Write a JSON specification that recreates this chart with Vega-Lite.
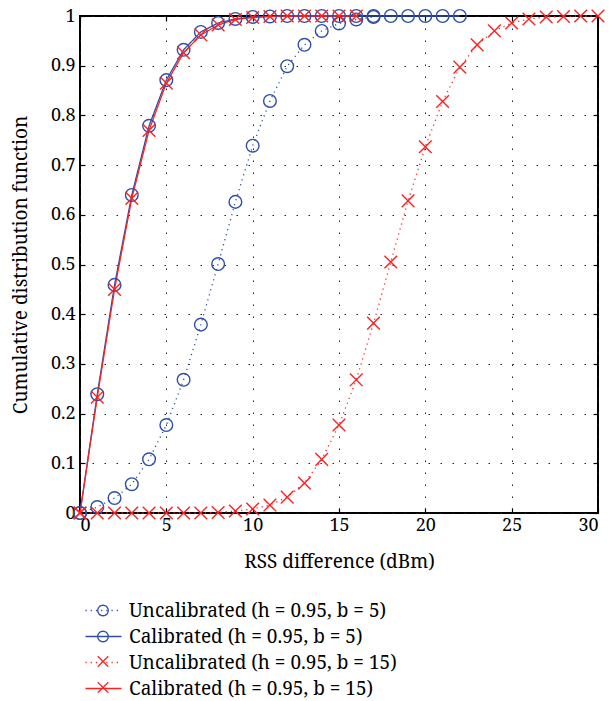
{
  "$schema": "https://vega.github.io/schema/vega-lite/v6.json",
  "width": 518,
  "height": 497,
  "autosize": {"type": "none"},
  "padding": {"left": 80, "top": 16, "right": 13, "bottom": 188},
  "background": "white",
  "config": {
    "font": "Noto Serif",
    "view": {"stroke": "black", "strokeWidth": 2},
    "axis": {
      "labelFont": "Noto Serif",
      "titleFont": "Noto Serif",
      "labelColor": "black",
      "titleColor": "black",
      "tickColor": "black",
      "titleFontWeight": "normal",
      "labelFontSize": 18,
      "titleFontSize": 19,
      "domain": false
    },
    "legend": {
      "labelFont": "Noto Serif",
      "labelFontSize": 19,
      "labelColor": "black",
      "labelLimit": 500,
      "padding": 0
    }
  },
  "data": {
    "values": [
      {"series": "Uncalibrated (h = 0.95, b = 5)", "x": 0, "y": 0},
      {"series": "Uncalibrated (h = 0.95, b = 5)", "x": 1, "y": 0.012},
      {"series": "Uncalibrated (h = 0.95, b = 5)", "x": 2, "y": 0.03},
      {"series": "Uncalibrated (h = 0.95, b = 5)", "x": 3, "y": 0.058},
      {"series": "Uncalibrated (h = 0.95, b = 5)", "x": 4, "y": 0.108},
      {"series": "Uncalibrated (h = 0.95, b = 5)", "x": 5, "y": 0.177},
      {"series": "Uncalibrated (h = 0.95, b = 5)", "x": 6, "y": 0.268},
      {"series": "Uncalibrated (h = 0.95, b = 5)", "x": 7, "y": 0.379},
      {"series": "Uncalibrated (h = 0.95, b = 5)", "x": 8, "y": 0.501},
      {"series": "Uncalibrated (h = 0.95, b = 5)", "x": 9, "y": 0.626},
      {"series": "Uncalibrated (h = 0.95, b = 5)", "x": 10, "y": 0.739},
      {"series": "Uncalibrated (h = 0.95, b = 5)", "x": 11, "y": 0.829},
      {"series": "Uncalibrated (h = 0.95, b = 5)", "x": 12, "y": 0.899},
      {"series": "Uncalibrated (h = 0.95, b = 5)", "x": 13, "y": 0.942},
      {"series": "Uncalibrated (h = 0.95, b = 5)", "x": 14, "y": 0.970},
      {"series": "Uncalibrated (h = 0.95, b = 5)", "x": 15, "y": 0.985},
      {"series": "Uncalibrated (h = 0.95, b = 5)", "x": 16, "y": 0.993},
      {"series": "Uncalibrated (h = 0.95, b = 5)", "x": 17, "y": 0.998},
      {"series": "Calibrated (h = 0.95, b = 5)", "x": 0, "y": 0},
      {"series": "Calibrated (h = 0.95, b = 5)", "x": 1, "y": 0.239},
      {"series": "Calibrated (h = 0.95, b = 5)", "x": 2, "y": 0.459},
      {"series": "Calibrated (h = 0.95, b = 5)", "x": 3, "y": 0.640},
      {"series": "Calibrated (h = 0.95, b = 5)", "x": 4, "y": 0.779},
      {"series": "Calibrated (h = 0.95, b = 5)", "x": 5, "y": 0.871},
      {"series": "Calibrated (h = 0.95, b = 5)", "x": 6, "y": 0.932},
      {"series": "Calibrated (h = 0.95, b = 5)", "x": 7, "y": 0.968},
      {"series": "Calibrated (h = 0.95, b = 5)", "x": 8, "y": 0.986},
      {"series": "Calibrated (h = 0.95, b = 5)", "x": 9, "y": 0.994},
      {"series": "Calibrated (h = 0.95, b = 5)", "x": 10, "y": 0.998},
      {"series": "Calibrated (h = 0.95, b = 5)", "x": 11, "y": 0.999},
      {"series": "Calibrated (h = 0.95, b = 5)", "x": 12, "y": 1},
      {"series": "Calibrated (h = 0.95, b = 5)", "x": 13, "y": 1},
      {"series": "Calibrated (h = 0.95, b = 5)", "x": 14, "y": 1},
      {"series": "Calibrated (h = 0.95, b = 5)", "x": 15, "y": 1},
      {"series": "Calibrated (h = 0.95, b = 5)", "x": 16, "y": 1},
      {"series": "Calibrated (h = 0.95, b = 5)", "x": 17, "y": 1},
      {"series": "Calibrated (h = 0.95, b = 5)", "x": 18, "y": 1},
      {"series": "Calibrated (h = 0.95, b = 5)", "x": 19, "y": 1},
      {"series": "Calibrated (h = 0.95, b = 5)", "x": 20, "y": 1},
      {"series": "Calibrated (h = 0.95, b = 5)", "x": 21, "y": 1},
      {"series": "Calibrated (h = 0.95, b = 5)", "x": 22, "y": 1},
      {"series": "Uncalibrated (h = 0.95, b = 15)", "x": 0, "y": 0},
      {"series": "Uncalibrated (h = 0.95, b = 15)", "x": 1, "y": 0},
      {"series": "Uncalibrated (h = 0.95, b = 15)", "x": 2, "y": 0},
      {"series": "Uncalibrated (h = 0.95, b = 15)", "x": 3, "y": 0},
      {"series": "Uncalibrated (h = 0.95, b = 15)", "x": 4, "y": 0},
      {"series": "Uncalibrated (h = 0.95, b = 15)", "x": 5, "y": 0},
      {"series": "Uncalibrated (h = 0.95, b = 15)", "x": 6, "y": 0},
      {"series": "Uncalibrated (h = 0.95, b = 15)", "x": 7, "y": 0},
      {"series": "Uncalibrated (h = 0.95, b = 15)", "x": 8, "y": 0.001},
      {"series": "Uncalibrated (h = 0.95, b = 15)", "x": 9, "y": 0.004},
      {"series": "Uncalibrated (h = 0.95, b = 15)", "x": 10, "y": 0.008},
      {"series": "Uncalibrated (h = 0.95, b = 15)", "x": 11, "y": 0.016},
      {"series": "Uncalibrated (h = 0.95, b = 15)", "x": 12, "y": 0.032},
      {"series": "Uncalibrated (h = 0.95, b = 15)", "x": 13, "y": 0.060},
      {"series": "Uncalibrated (h = 0.95, b = 15)", "x": 14, "y": 0.108},
      {"series": "Uncalibrated (h = 0.95, b = 15)", "x": 15, "y": 0.177},
      {"series": "Uncalibrated (h = 0.95, b = 15)", "x": 16, "y": 0.268},
      {"series": "Uncalibrated (h = 0.95, b = 15)", "x": 17, "y": 0.382},
      {"series": "Uncalibrated (h = 0.95, b = 15)", "x": 18, "y": 0.505},
      {"series": "Uncalibrated (h = 0.95, b = 15)", "x": 19, "y": 0.628},
      {"series": "Uncalibrated (h = 0.95, b = 15)", "x": 20, "y": 0.737},
      {"series": "Uncalibrated (h = 0.95, b = 15)", "x": 21, "y": 0.828},
      {"series": "Uncalibrated (h = 0.95, b = 15)", "x": 22, "y": 0.897},
      {"series": "Uncalibrated (h = 0.95, b = 15)", "x": 23, "y": 0.942},
      {"series": "Uncalibrated (h = 0.95, b = 15)", "x": 24, "y": 0.970},
      {"series": "Uncalibrated (h = 0.95, b = 15)", "x": 25, "y": 0.986},
      {"series": "Uncalibrated (h = 0.95, b = 15)", "x": 26, "y": 0.994},
      {"series": "Uncalibrated (h = 0.95, b = 15)", "x": 27, "y": 0.998},
      {"series": "Uncalibrated (h = 0.95, b = 15)", "x": 28, "y": 0.999},
      {"series": "Uncalibrated (h = 0.95, b = 15)", "x": 29, "y": 1},
      {"series": "Uncalibrated (h = 0.95, b = 15)", "x": 30, "y": 1},
      {"series": "Calibrated (h = 0.95, b = 15)", "x": 0, "y": 0},
      {"series": "Calibrated (h = 0.95, b = 15)", "x": 1, "y": 0.233},
      {"series": "Calibrated (h = 0.95, b = 15)", "x": 2, "y": 0.450},
      {"series": "Calibrated (h = 0.95, b = 15)", "x": 3, "y": 0.633},
      {"series": "Calibrated (h = 0.95, b = 15)", "x": 4, "y": 0.770},
      {"series": "Calibrated (h = 0.95, b = 15)", "x": 5, "y": 0.865},
      {"series": "Calibrated (h = 0.95, b = 15)", "x": 6, "y": 0.926},
      {"series": "Calibrated (h = 0.95, b = 15)", "x": 7, "y": 0.962},
      {"series": "Calibrated (h = 0.95, b = 15)", "x": 8, "y": 0.982},
      {"series": "Calibrated (h = 0.95, b = 15)", "x": 9, "y": 0.993},
      {"series": "Calibrated (h = 0.95, b = 15)", "x": 10, "y": 0.997},
      {"series": "Calibrated (h = 0.95, b = 15)", "x": 11, "y": 0.999},
      {"series": "Calibrated (h = 0.95, b = 15)", "x": 12, "y": 1},
      {"series": "Calibrated (h = 0.95, b = 15)", "x": 13, "y": 1},
      {"series": "Calibrated (h = 0.95, b = 15)", "x": 14, "y": 1},
      {"series": "Calibrated (h = 0.95, b = 15)", "x": 15, "y": 1},
      {"series": "Calibrated (h = 0.95, b = 15)", "x": 16, "y": 1}
    ]
  },
  "transform": [{"calculate": "datum.series", "as": "marker"}],
  "layer": [
    {
      "mark": {"type": "line", "strokeWidth": 1.3, "clip": false},
      "encoding": {
        "x": {
          "field": "x", "type": "quantitative",
          "scale": {"domain": [0, 30], "nice": false, "zero": false},
          "axis": {
            "orient": "bottom",
            "title": "RSS difference (dBm)",
            "labelFont": "Noto Serif", "titleFont": "Noto Serif",
            "labelFontSize": 18, "titleFontSize": 19,
            "values": [0, 5, 10, 15, 20, 25, 30],
            "format": "d",
            "grid": true, "gridColor": "#222", "gridDash": [1.5, 10.5], "gridWidth": 1,
            "tickSize": -5, "tickWidth": 1.2,
            "labelPadding": 8, "titlePadding": 18
          }
        },
        "y": {
          "field": "y", "type": "quantitative",
          "scale": {"domain": [0, 1], "nice": false, "zero": false},
          "axis": {
            "orient": "left",
            "title": "Cumulative distribution function",
            "labelFont": "Noto Serif", "titleFont": "Noto Serif",
            "labelFontSize": 18, "titleFontSize": 19,
            "values": [0, 0.1, 0.2, 0.3, 0.4, 0.5, 0.6, 0.7, 0.8, 0.9, 1],
            "format": ".1~f",
            "grid": true, "gridColor": "#222", "gridDash": [1.5, 10.5], "gridWidth": 1,
            "tickSize": -5, "tickWidth": 1.2,
            "labelPadding": 10, "titlePadding": 20
          }
        },
        "color": {
          "field": "series", "type": "nominal",
          "scale": {
            "domain": ["Uncalibrated (h = 0.95, b = 5)", "Calibrated (h = 0.95, b = 5)", "Uncalibrated (h = 0.95, b = 15)", "Calibrated (h = 0.95, b = 15)"],
            "range": ["#2e4fa7", "#2e4fa7", "#ff2020", "#ff2020"]
          },
          "legend": {
            "orient": "none", "legendX": 14, "legendY": 585, "title": null,
            "symbolType": "M-3,0L3,0", "symbolSize": 144, "symbolStrokeWidth": 1.3,
            "symbolFillColor": "transparent",
            "labelFont": "Noto Serif",
            "labelOffset": 16, "rowPadding": 6
          }
        },
        "strokeDash": {
          "field": "series", "type": "nominal",
          "scale": {
            "domain": ["Uncalibrated (h = 0.95, b = 5)", "Calibrated (h = 0.95, b = 5)", "Uncalibrated (h = 0.95, b = 15)", "Calibrated (h = 0.95, b = 15)"],
            "range": [[1.2, 4], [1, 0], [1.2, 4], [1, 0]]
          },
          "legend": {
            "orient": "none", "legendX": 14, "legendY": 585, "title": null,
            "symbolType": "M-3,0L3,0", "symbolSize": 144, "symbolStrokeWidth": 1.3,
            "labelFont": "Noto Serif",
            "labelOffset": 16, "rowPadding": 6
          }
        }
      }
    },
    {
      "mark": {"type": "point", "size": 160, "strokeWidth": 1.4, "filled": false, "opacity": 1, "clip": false},
      "encoding": {
        "x": {
          "field": "x", "type": "quantitative",
          "axis": {
            "orient": "top", "title": null, "labels": false, "grid": false,
            "values": [0, 5, 10, 15, 20, 25, 30],
            "tickSize": -5, "tickWidth": 1.2
          }
        },
        "y": {
          "field": "y", "type": "quantitative",
          "axis": {
            "orient": "right", "title": null, "labels": false, "grid": false,
            "values": [0, 0.1, 0.2, 0.3, 0.4, 0.5, 0.6, 0.7, 0.8, 0.9, 1],
            "tickSize": -5, "tickWidth": 1.2
          }
        },
        "stroke": {
          "field": "marker", "type": "nominal",
          "sort": ["Uncalibrated (h = 0.95, b = 5)", "Calibrated (h = 0.95, b = 5)", "Uncalibrated (h = 0.95, b = 15)", "Calibrated (h = 0.95, b = 15)"],
          "scale": {"range": ["#2e4fa7", "#2e4fa7", "#ff2020", "#ff2020"]},
          "legend": {
            "orient": "none", "legendX": 13.5, "legendY": 585, "title": null,
            "values": ["Uncalibrated (h = 0.95, b = 5)", "Calibrated (h = 0.95, b = 5)"],
            "symbolType": "circle",
            "symbolSize": 110, "symbolStrokeWidth": 1.3,
            "symbolFillColor": "transparent", "symbolDash": [1, 0],
            "labelFont": "Noto Serif", "labelExpr": "' '",
            "labelOffset": 16, "rowPadding": 6, "labelOpacity": 0
          }
        },
        "shape": {
          "field": "marker", "type": "nominal",
          "sort": ["Uncalibrated (h = 0.95, b = 5)", "Calibrated (h = 0.95, b = 5)", "Uncalibrated (h = 0.95, b = 15)", "Calibrated (h = 0.95, b = 15)"],
          "scale": {
            "range": ["circle", "circle", "M-1,-1L1,1M1,-1L-1,1", "M-1,-1L1,1M1,-1L-1,1"]
          },
          "legend": {
            "orient": "none", "legendX": 13.5, "legendY": 636, "title": null,
            "values": ["Uncalibrated (h = 0.95, b = 15)", "Calibrated (h = 0.95, b = 15)"],
            "symbolSize": 110, "symbolStrokeWidth": 1.3,
            "symbolFillColor": "transparent", "symbolStrokeColor": "#ff2020", "symbolDash": [1, 0],
            "labelFont": "Noto Serif", "labelExpr": "' '",
            "labelOffset": 16, "rowPadding": 6, "labelOpacity": 0
          }
        }
      }
    }
  ]
}
